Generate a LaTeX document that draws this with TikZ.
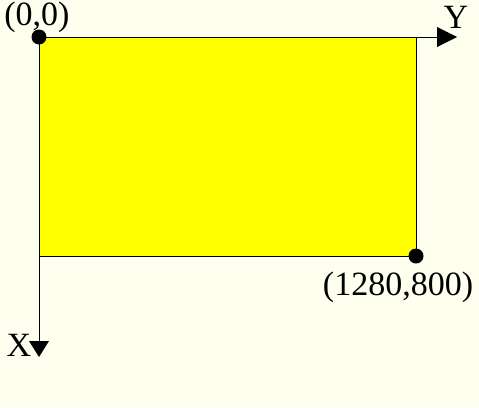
\documentclass[tikz,border=0pt]{standalone}
\usepackage{fontspec}
\setmainfont{Liberation Serif}
\definecolor{bgcream}{RGB}{255,255,240}
\definecolor{pureyellow}{RGB}{255,255,0}
\begin{document}
\begin{tikzpicture}[x=1pt,y=-1pt,
  lbl/.style={inner sep=0pt,font=\fontsize{34}{37}\selectfont},
  dot/.style={circle,fill=black,inner sep=0pt,minimum size=15pt},
  axis/.style={draw=black,line width=1pt},
  tip/.style={fill=black}]
\fill[fill=bgcream] (0,0) rectangle (479,407);
\useasboundingbox (0,0) rectangle (479,407);
\coordinate (O) at (39,37);
\coordinate (C) at (416,256);
\coordinate (Yend) at (440,37);
\coordinate (Xend) at (39,342);
\filldraw[fill=pureyellow,draw=black,line width=1pt] (O) rectangle (C);
\draw[axis] (O) -- (Yend);
\draw[axis] (O) -- (Xend);
\fill[tip] (437,27) -- (457,37) -- (437,47) -- cycle;
\fill[tip] (29,341) -- (49,341) -- (39,357) -- cycle;
\node[dot] (d0) at (O) {};
\node[dot] (d1) at (C) {};
\node[lbl] (l0) at (37,17) {(0,0)};
\node[lbl] (ly) at (456,17) {Y};
\node[lbl] (lx) at (19,345) {X};
\node[lbl] (l1) at (398,287) {(1280,800)};
\end{tikzpicture}
\end{document}
